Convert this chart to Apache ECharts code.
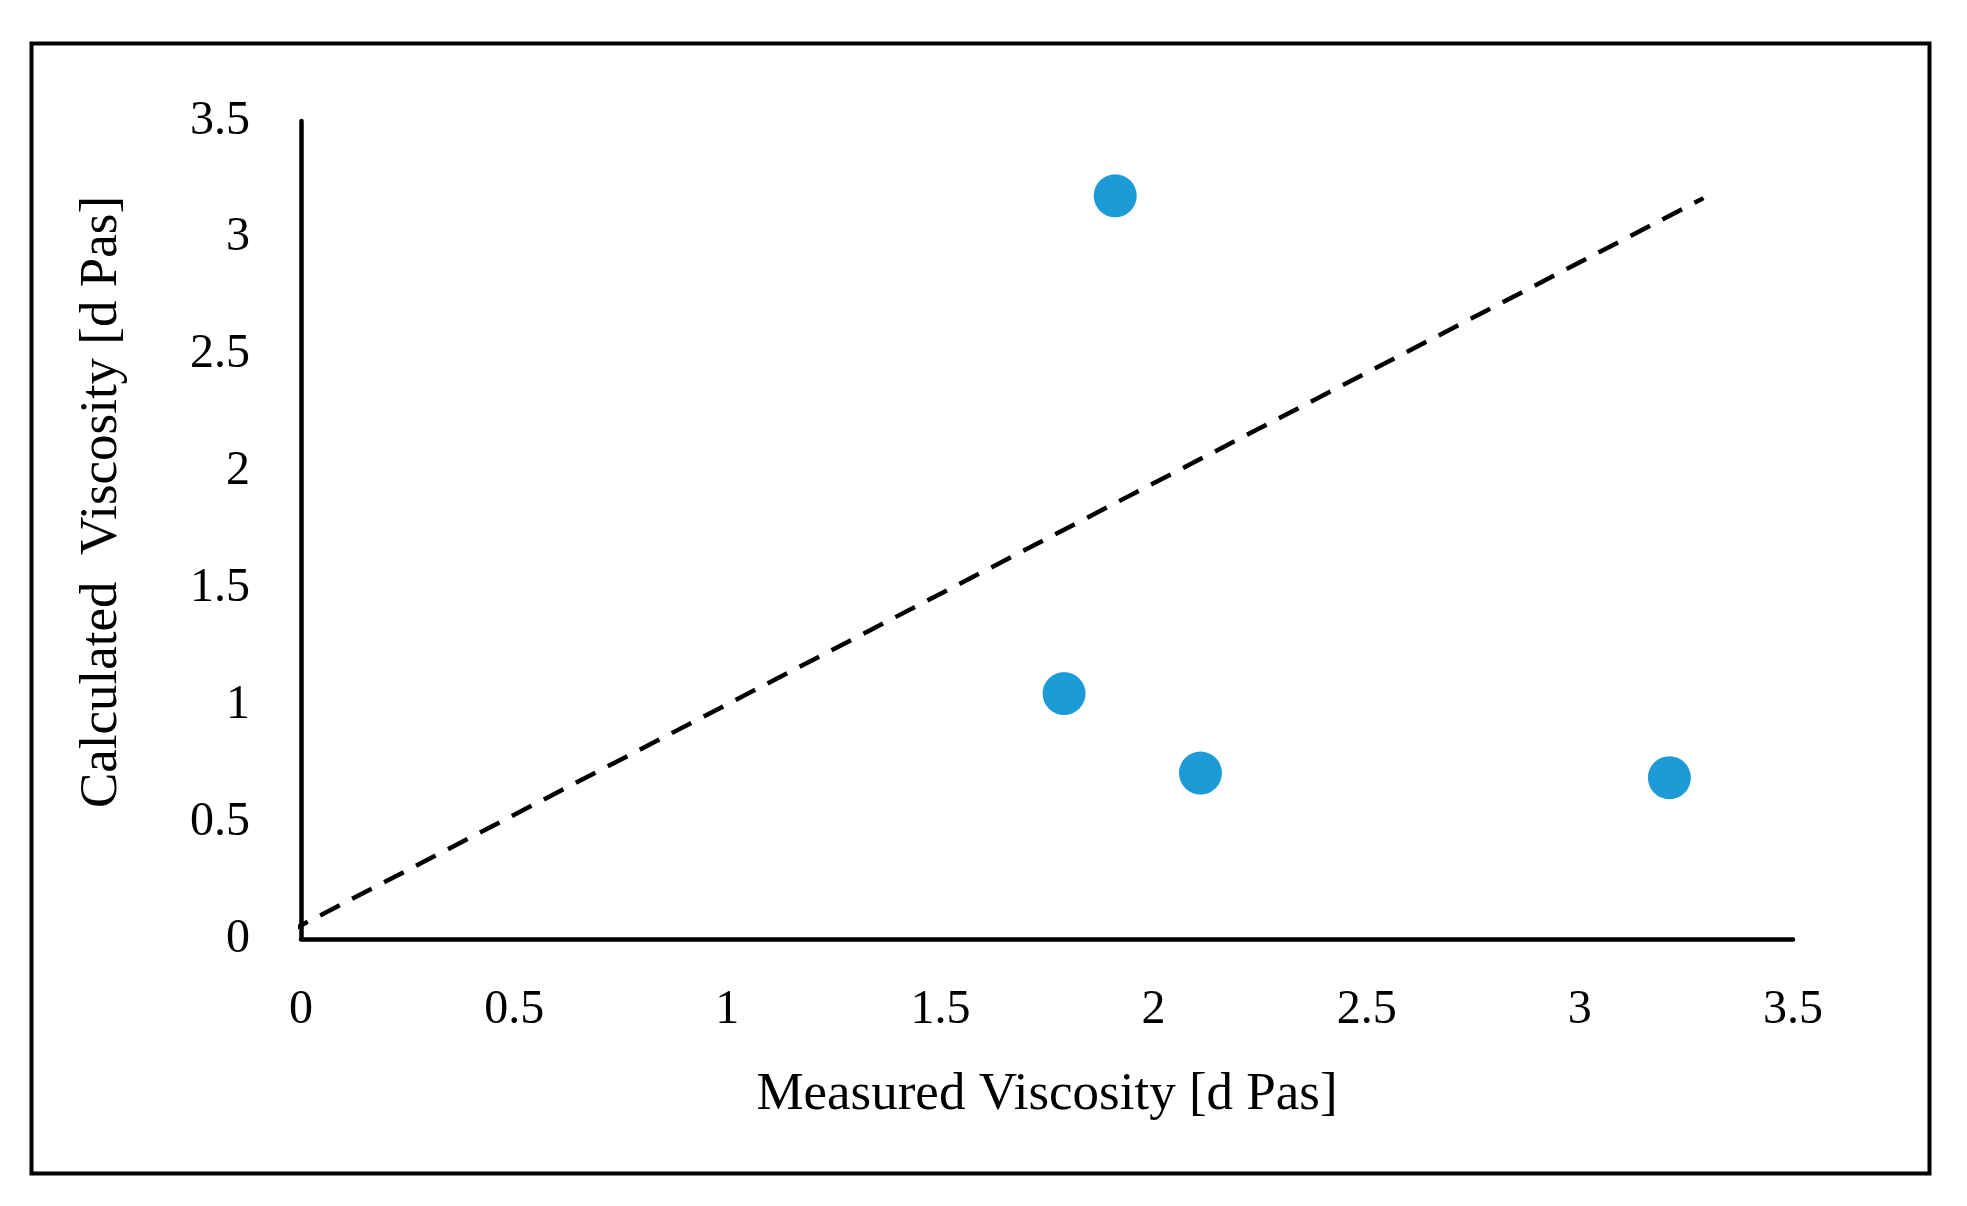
<!DOCTYPE html>
<html>
<head>
<meta charset="utf-8">
<script src="https://cdn.jsdelivr.net/npm/echarts@6/dist/echarts.min.js"></script>
<style>
html,body{margin:0;padding:0;background:#fff;}
#chart{width:1967px;height:1206px;}
</style>
</head>
<body>
<div id="chart"></div>
<script>
// Data
const measured = [1.79, 2.11, 3.21, 1.91];
const calculated = [1.05, 0.71, 0.69, 3.18];
const refLineX = [-0.03, 3.29];
const refLineY = [0.03, 3.17];
const axisTicks = [0, 0.5, 1, 1.5, 2, 2.5, 3, 3.5];
const xTitle = 'Measured Viscosity [d Pas]';
const yTitle = 'Calculated  Viscosity [d Pas]';

const font = '"Liberation Serif", "DejaVu Serif", serif';
const chart = echarts.init(document.getElementById('chart'));
chart.setOption({
  animation: false,
  backgroundColor: '#fff',
  grid: {left: 301, right: 174, top: 121, bottom: 267},
  graphic: [{
    type: 'rect', left: 29, top: 41, z: -1,
    shape: {width: 1898, height: 1130},
    style: {fill: 'none', stroke: '#000', lineWidth: 4}
  }],
  xAxis: {
    type: 'value', min: axisTicks[0], max: axisTicks[axisTicks.length - 1], interval: 0.5,
    name: xTitle, nameLocation: 'middle', nameGap: 130,
    nameTextStyle: {fontFamily: font, fontSize: 53, color: '#000'},
    axisLine: {lineStyle: {color: '#000', width: 4.5}},
    axisTick: {show: false}, splitLine: {show: false},
    axisLabel: {fontFamily: font, fontSize: 48, color: '#000', margin: 47}
  },
  yAxis: {
    type: 'value', min: axisTicks[0], max: axisTicks[axisTicks.length - 1], interval: 0.5,
    name: yTitle, nameLocation: 'middle', nameGap: 172,
    nameTextStyle: {fontFamily: font, fontSize: 53, color: '#000', padding: [0, 0, 0, 56]},
    axisLine: {lineStyle: {color: '#000', width: 4.5}},
    axisTick: {show: false}, splitLine: {show: false},
    axisLabel: {fontFamily: font, fontSize: 48, color: '#000', margin: 51}
  },
  series: [{
    type: 'line',
    data: refLineX.map((x, i) => [x, refLineY[i]]),
    showSymbol: false, symbol: 'none', clip: false,
    lineStyle: {color: '#000', width: 4.5, type: [22, 14]},
    z: 2
  }, {
    type: 'scatter',
    data: measured.map((x, i) => [x, calculated[i]]),
    symbol: 'circle', symbolSize: 43,
    itemStyle: {color: '#1d9bd7', opacity: 1},
    z: 3
  }]
});
</script>
</body>
</html>
